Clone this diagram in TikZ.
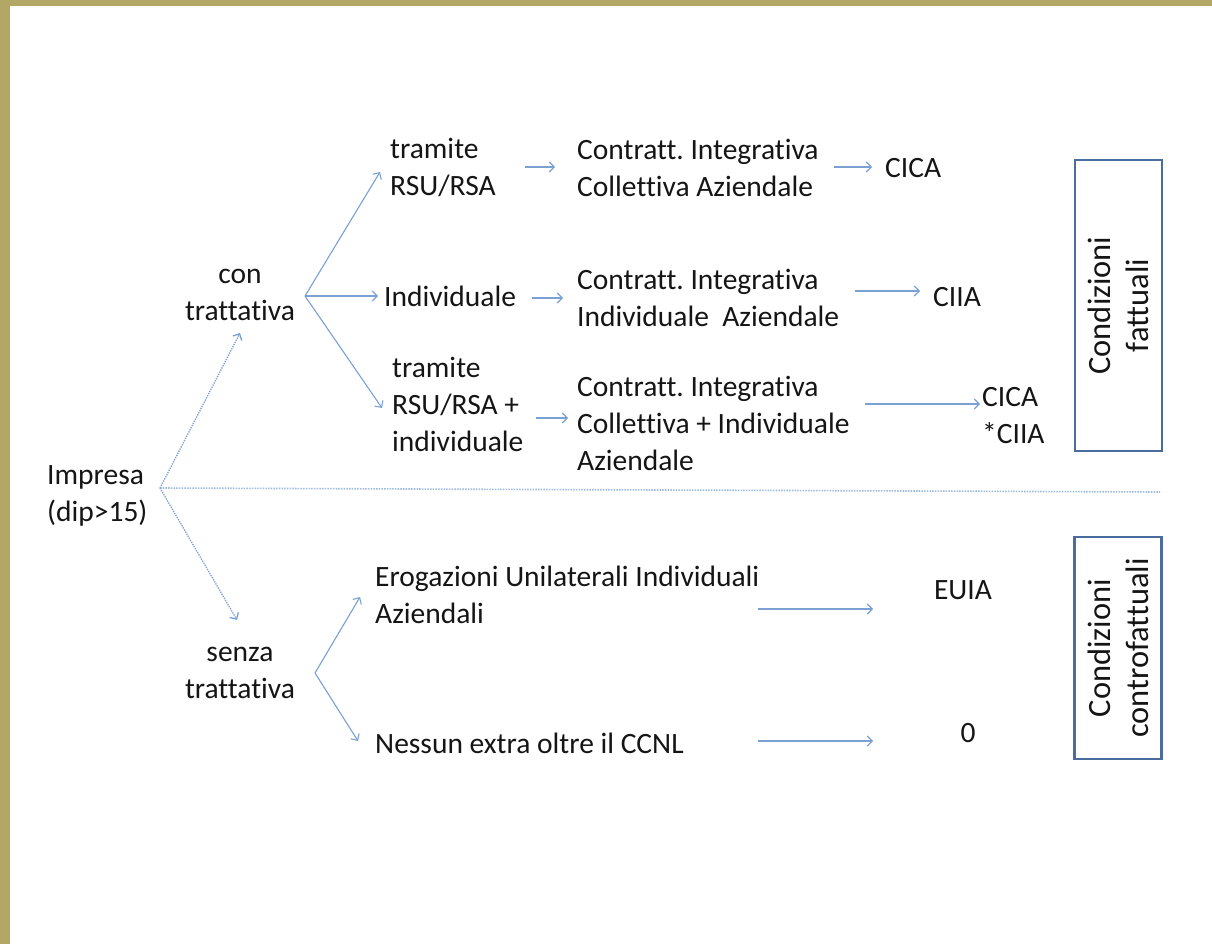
\documentclass[tikz,border=0pt]{standalone}
\usepackage{fontspec}
\setmainfont{Carlito}[Ligatures={NoCommon}]
\usetikzlibrary{arrows.meta}
\definecolor{frame}{HTML}{B2A764}
\definecolor{arrblue}{HTML}{7BA0D4}
\definecolor{dotblue}{HTML}{9DBBE2}
\definecolor{boxblue}{HTML}{4A6C9E}
\definecolor{txt}{HTML}{151515}
\frenchspacing
\begin{document}
\begin{tikzpicture}[x=1pt,y=-1pt,
  lbl/.style={font=\fontsize{29.5}{37}\selectfont, text=txt, inner sep=0pt, align=left, anchor=west},
  ctr/.style={lbl, align=center, anchor=center},
  boxtxt/.style={ctr, font=\fontsize{32.5}{38}\selectfont, rotate=90},
  arr/.style={draw=arrblue, line width=1.1pt, -{Straight Barb[length=5pt,width=10pt]}},
  dotarr/.style={arr, line width=1.3pt, dash pattern=on 1.3pt off 1.1pt},
  cbox/.style={draw=boxblue, line width=2.5pt, minimum width=87pt, inner sep=0pt}]
\useasboundingbox (0,0) rectangle (1212,944);
\fill[white] (0,0) rectangle (1212,944);
\fill[frame] (0,0) rectangle (10,944);
\fill[frame] (0,0) rectangle (1212,6);

% text nodes
\node[lbl] (imp) at (47,496) {Impresa\\(dip>15)};
\node[ctr] (con) at (240,295) {con\\trattativa};
\node[ctr] (senza) at (240,673) {senza\\trattativa};
\node[lbl] (rsu) at (390,167.5) {tramite\\RSU/RSA};
\node[lbl] (indiv) at (384,296) {Individuale};
\node[lbl] (rsuind) at (392,404) {tramite\\RSU/RSA +\\individuale};
\node[lbl] (c1) at (577,167.5) {Contratt. Integrativa\\Collettiva Aziendale};
\node[lbl] (c2) at (577,297.5) {Contratt. Integrativa\\Individuale\ \ Aziendale};
\node[lbl] (c3) at (577,423) {Contratt. Integrativa\\Collettiva + Individuale\\Aziendale};
\node[lbl] (r1) at (885,168) {CICA};
\node[lbl] (r2) at (933,297) {CIIA};
\node[lbl] (r3) at (982,415.5) {CICA\\*CIIA};
\node[lbl] (ero) at (375,594.5) {Erogazioni Unilaterali Individuali\\Aziendali};
\node[lbl] (nes) at (375,743) {Nessun extra oltre il CCNL};
\node[ctr] (euia) at (963,590) {EUIA};
\node[ctr] (zero) at (968,733) {0};

% boxes
\node[cbox, minimum height=291pt] (fbox) at (1118.5,305.5) {};
\node[boxtxt] (ftext) at (fbox.center) {Condizioni\\fattuali};
\node[cbox, minimum height=222pt] (cfbox) at (1118,648) {};
\node[boxtxt] (cftext) at (cfbox.center) {Condizioni\\controfattuali};

% branch points and arrow ends
\coordinate (bImp) at (160,488);
\coordinate (divEnd) at (1160,492);
\coordinate (bCon) at (305,296);
\coordinate (bSen) at (315,673);
\coordinate (tCon) at (240,333);
\coordinate (tSen) at (237,620);
\coordinate (tRsu) at (380,172);
\coordinate (tInd) at (378,296);
\coordinate (tRsuInd) at (382,408);
\coordinate (tEro) at (360,597);
\coordinate (tNes) at (358,741);

% connectors
\draw[dotblue, line width=1.6pt, dash pattern=on 1.5pt off 1.2pt] (bImp) -- (divEnd);
\draw[dotarr] (bImp) -- (tCon);
\draw[dotarr] (bImp) -- (tSen);
\draw[arr] (bCon) -- (tRsu);
\draw[arr] (bCon) -- (tInd);
\draw[arr] (bCon) -- (tRsuInd);
\draw[arr] (bSen) -- (tEro);
\draw[arr] (bSen) -- (tNes);

\draw[arr] (525,167) -- (555,167);
\draw[arr] (532,298) -- (563,298);
\draw[arr] (536,418) -- (568,418);
\draw[arr] (834,167) -- (872,167);
\draw[arr] (855,291) -- (920,291);
\draw[arr] (865,404) -- (980,404);
\draw[arr] (758,609) -- (873,609);
\draw[arr] (758,741) -- (873,741);
\end{tikzpicture}
\end{document}
